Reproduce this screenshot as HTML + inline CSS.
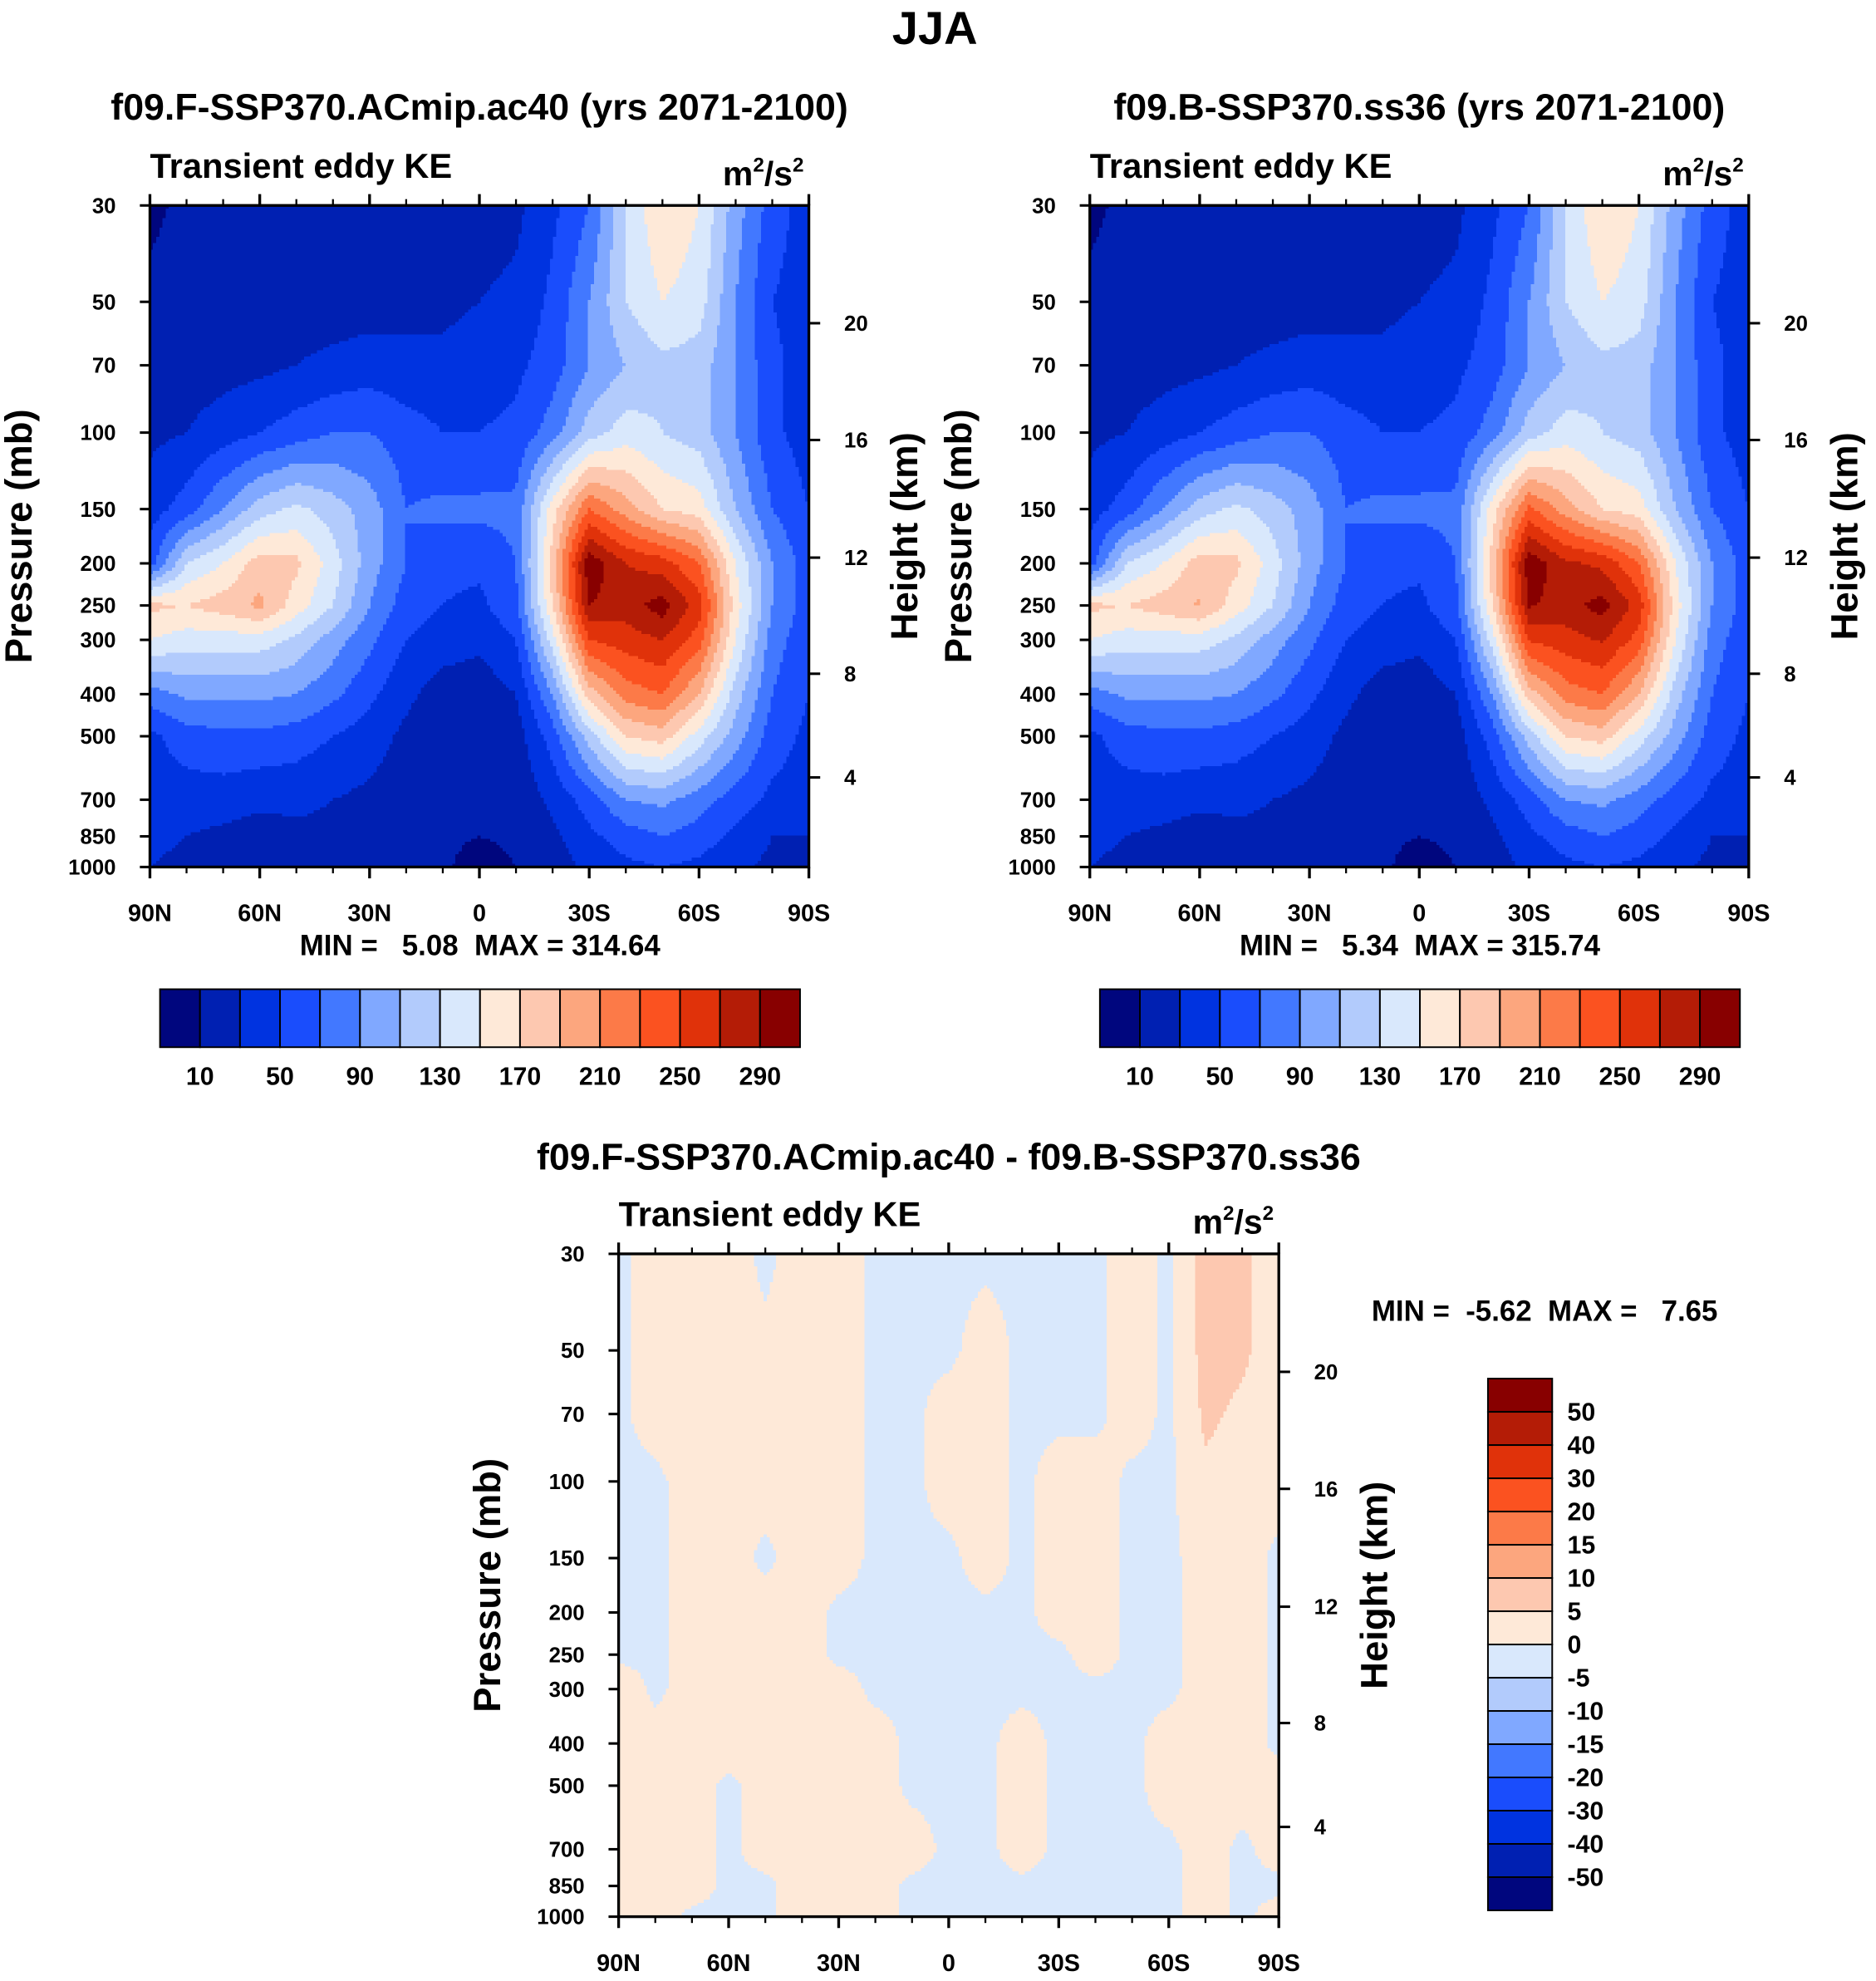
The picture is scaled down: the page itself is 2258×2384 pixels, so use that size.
<!DOCTYPE html>
<html><head><meta charset="utf-8"><style>
html,body{margin:0;padding:0;background:#fff;}
svg{display:block;font-family:"Liberation Sans",Arial,sans-serif;font-weight:bold;}
.pre{white-space:pre;}
</style></head><body>
<svg id="fig" width="2258" height="2384" viewBox="0 0 1489 1572" xmlns="http://www.w3.org/2000/svg">
<text x="742" y="35" font-size="37" text-anchor="middle">JJA</text>
<g id="p1"></g>
<g id="p2"></g>
<g id="p3"></g>
</svg>
<script>
const lats=[90,80,70,60,50,40,30,20,10,0,-10,-20,-30,-40,-50,-60,-70,-80,-90];
const levels=[30,50,70,100,150,200,250,300,400,500,700,850,1000];
const keLevels=[10,30,50,70,90,110,130,150,170,190,210,230,250,270,290];
const keLabels=[10,50,90,130,170,210,250,290];
const diffLevels=[-50,-40,-30,-20,-15,-10,-5,0,5,10,15,20,30,40,50];
const pressTicks=[30,50,70,100,150,200,250,300,400,500,700,850,1000];
const heightTicks=[20,16,12,8,4];
const heightPress=[56,104,194,359,622];
const latTicks=[90,60,30,0,-30,-60,-90];
const latTickLabels=['90N','60N','30N','0','30S','60S','90S'];
const palette=['#00067e','#0020b2','#0033e0','#1a4dfc','#4278ff','#80a8ff','#b2cbfc','#d9e8fc','#fee9d8','#fdc8b0','#fca67e','#fc7a48','#fb5220','#e0320a','#b41c06','#880000'];
const ke1=[
[5,15,20,10,20,20,20,20,20,20,25,45,70,130,170,150,100,60,40],
[15,20,20,20,20,20,20,25,25,30,35,55,90,130,150,140,90,50,40],
[20,20,22,25,30,35,40,35,35,40,45,60,90,110,125,120,90,55,40],
[25,30,40,50,60,70,70,60,50,50,55,80,120,140,130,120,90,55,40],
[40,60,90,120,135,120,100,70,75,75,75,160,230,200,170,160,110,70,50],
[60,130,150,180,175,140,100,70,55,55,70,180,305,270,260,230,150,90,60],
[175,170,180,195,160,130,90,60,50,45,65,170,290,280,300,260,160,90,60],
[150,140,140,140,125,100,75,50,40,35,50,140,250,260,270,240,150,80,55],
[80,95,95,95,90,75,55,35,20,18,30,90,180,220,230,190,120,70,50],
[45,60,65,65,60,50,40,25,15,12,20,60,120,170,180,140,100,60,45],
[40,40,40,35,35,30,25,18,12,10,15,35,60,90,95,80,60,45,40],
[35,30,25,20,25,25,20,15,12,10,12,25,45,60,70,60,45,30,30],
[30,25,20,15,20,20,18,15,12,5,10,20,35,45,50,45,35,25,25]];
const ke2=[
[5,15,20,10,20,20,20,20,20,20,25,45,70,130,170,150,100,60,40],
[15,20,20,20,20,20,20,25,25,30,35,55,90,130,150,140,90,50,40],
[20,20,22,25,30,35,40,35,35,40,45,60,90,110,125,120,90,55,40],
[25,30,40,50,60,70,70,60,50,50,55,80,120,140,130,120,90,55,40],
[40,60,90,120,135,120,100,70,75,75,75,160,235,200,170,160,110,70,50],
[60,130,150,180,175,140,100,70,55,55,70,180,305,275,265,230,150,90,60],
[175,170,180,192,160,130,90,60,50,45,65,170,292,282,298,262,160,90,60],
[150,140,140,140,125,100,75,50,40,35,50,140,252,262,272,242,150,80,55],
[80,95,95,95,90,75,55,35,20,18,30,90,180,220,230,190,120,70,50],
[45,60,65,65,60,50,40,25,15,12,20,60,120,170,180,140,100,60,45],
[40,40,40,35,35,30,25,18,12,10,15,35,60,90,95,80,60,45,40],
[35,30,25,20,25,25,20,15,12,10,12,25,45,60,70,60,45,30,30],
[30,25,20,15,20,20,18,15,12,5,10,20,35,45,50,45,35,25,25]];
const diff=[
[-1,2,2,2,-1,2,2,-1,-1,-1,-1,-1,-1,-1,2,-1,7,6,2],
[-1,2,2,2,1,2,2,-1,-1,-1,2,-1,-1,-1,2,-1,7,6,2],
[-1,2,2,2,2,2,2,-1,-1,2,2,-1,-1,-1,2,-1,6,4,2],
[-1,-1,2,2,2,2,2,-1,-1,2,2,-1,2,2,-1,-1,4,2,2],
[-1,-1,2,2,-1,2,2,-1,-1,-1,2,-1,2,2,-1,-1,2,2,-1],
[-1,-1,2,2,2,2,-1,-1,-1,-1,-1,-1,2,2,-1,-1,2,2,-1],
[-1,-1,2,2,2,2,-1,-1,-1,-1,-1,-1,-1,2,-1,-1,2,2,-1],
[3,-1,2,2,2,2,2,-1,-1,-1,-1,-1,-1,-1,-1,-1,2,2,-1],
[2,2,2,2,2,2,2,2,-1,-1,-1,2,-1,-1,-1,2,2,2,-1],
[2,2,2,-1,2,2,2,2,-1,-1,-1,2,-1,-1,-1,2,2,2,2],
[2,2,2,-1,2,2,2,2,2,-1,-1,2,-1,-1,-1,-1,2,-1,2],
[2,2,2,-1,-1,2,2,2,-1,-1,-1,-1,-1,-1,-1,-1,2,-1,-1],
[2,2,-1,-1,-1,2,2,2,-1,-1,-1,-1,-1,-1,-1,-1,2,-1,2]];

const NS='http://www.w3.org/2000/svg';
function mk(parent,tag,attrs,text){const e=document.createElementNS(NS,tag);for(const k in attrs)e.setAttribute(k,attrs[k]);if(text!==undefined)e.textContent=text;parent.appendChild(e);return e;}
function cidx(v,lv){let k=0;while(k<lv.length&&v>=lv[k])k++;return k;}

function drawPanel(g,cfg){
  const X0=cfg.x,Y0=cfg.y,W=cfg.w,H=cfg.h;
  const lp0=Math.log(30),lp1=Math.log(1000);
  const xOf=lat=>X0+(90-lat)/180*W;
  const yOf=p=>Y0+(Math.log(p)-lp0)/(lp1-lp0)*H;
  const logLev=levels.map(Math.log);
  const data=cfg.data;
  const fld=mk(g,'g',{'shape-rendering':'crispEdges'});
  
  
  const st=2.5;
  for(let yy=Y0;yy<Y0+H;yy+=st){
    const ym=Math.min(yy+st/2,Y0+H);
    const lp=lp0+(ym-Y0)/H*(lp1-lp0);
    let r=0;while(r<levels.length-2&&lp>logLev[r+1])r++;
    const fr=Math.max(0,Math.min(1,(lp-logLev[r])/(logLev[r+1]-logLev[r])));
    let runStart=X0,runC=-1;
    const flush=(xe)=>{if(runC<0)return;const c=mk(fld,'rect',{x:runStart,y:yy,width:xe-runStart+0.4,height:Math.min(st,Y0+H-yy)+0.4,fill:palette[runC]});};
    for(let xx=X0;xx<X0+W;xx+=st){
      const xm=xx+st/2;
      const fi=(xm-X0)/W*(lats.length-1);
      let i=Math.min(Math.floor(fi),lats.length-2);const fx=fi-i;
      const v=(1-fr)*((1-fx)*data[r][i]+fx*data[r][i+1])+fr*((1-fx)*data[r+1][i]+fx*data[r+1][i+1]);
      const c=cidx(v,cfg.lv);
      if(c!==runC){flush(xx);runStart=xx;runC=c;}
    }
    flush(X0+W);
  }
  const frame=mk(g,'rect',{x:X0,y:Y0,width:W,height:H,fill:'none',stroke:'#000','stroke-width':2.2});
  
  for(let lat=90;lat>=-90;lat-=10){
    const x=xOf(lat),maj=lat%30===0,L=maj?9:5;
    mk(g,'line',{x1:x,y1:Y0,x2:x,y2:Y0-L,stroke:'#000','stroke-width':maj?2.2:1.5});
    mk(g,'line',{x1:x,y1:Y0+H,x2:x,y2:Y0+H+L,stroke:'#000','stroke-width':maj?2.2:1.5});
  }
  latTicks.forEach((lat,k)=>{const t=mk(g,'text',{x:xOf(lat),y:Y0+H+43,'font-size':19,'text-anchor':'middle'},latTickLabels[k]);});
  pressTicks.forEach(p=>{const y=yOf(p);mk(g,'line',{x1:X0,y1:y,x2:X0-8,y2:y,stroke:'#000','stroke-width':2});
    const t=mk(g,'text',{x:X0-27,y:y+6,'font-size':17,'text-anchor':'end'},String(p));});
  heightTicks.forEach((h,k)=>{const y=yOf(heightPress[k]);mk(g,'line',{x1:X0+W,y1:y,x2:X0+W+9,y2:y,stroke:'#000','stroke-width':2});
    const t=mk(g,'text',{x:X0+W+28,y:y+6,'font-size':17},String(h));});
  const yt=mk(g,'text',{x:X0-94,y:Y0+H/2,'font-size':30,'text-anchor':'middle',transform:`rotate(-90 ${X0-94} ${Y0+H/2})`},'Pressure (mb)');
  
  const ht=mk(g,'text',{x:X0+W+86,y:Y0+H/2,'font-size':30,'text-anchor':'middle',transform:`rotate(-90 ${X0+W+86} ${Y0+H/2})`},'Height (km)');
  
  const st1=mk(g,'text',{x:X0,y:Y0-22,'font-size':27.5},'Transient eddy KE');
  
  const un=mk(g,'text',{x:X0+W-4,y:Y0-16,'font-size':27,'text-anchor':'end'});
  
  un.innerHTML='m<tspan dy="-11" font-size="16">2</tspan><tspan dy="11">/s</tspan><tspan dy="-11" font-size="16">2</tspan>';
  const tt=mk(g,'text',{x:X0+W/2,y:cfg.titleY,'font-size':29.5,'text-anchor':'middle'},cfg.title);
  
}
function hbar(g,x0,y0,w,h,lv){
  const n=palette.length,bw=w/n;
  palette.forEach((c,k)=>{const r=mk(g,'rect',{x:x0+k*bw,y:y0,width:bw,height:h,fill:c,stroke:'#000','stroke-width':1.3});});
  lv.forEach((v,k)=>{if(keLabels.indexOf(v)<0)return;const t=mk(g,'text',{x:x0+(k+1)*bw,y:y0+h+30,'font-size':20,'text-anchor':'middle'},String(v));});
}
const p1=document.getElementById('p1'),p2=document.getElementById('p2'),p3=document.getElementById('p3');
drawPanel(p1,{x:119,y:163,w:523,h:525,data:ke1,lv:keLevels,title:'f09.F-SSP370.ACmip.ac40 (yrs 2071-2100)',titleY:95});
drawPanel(p2,{x:865,y:163,w:523,h:525,data:ke2,lv:keLevels,title:'f09.B-SSP370.ss36 (yrs 2071-2100)',titleY:95});
drawPanel(p3,{x:491,y:995,w:524,h:526,data:diff,lv:diffLevels,title:'f09.F-SSP370.ACmip.ac40 - f09.B-SSP370.ss36',titleY:928});
let m=mk(p1,'text',{x:381,y:758,'font-size':23,'text-anchor':'middle','class':'pre'},'MIN =   5.08  MAX = 314.64');
m=mk(p2,'text',{x:1127,y:758,'font-size':23,'text-anchor':'middle','class':'pre'},'MIN =   5.34  MAX = 315.74');
m=mk(p3,'text',{x:1226,y:1048,'font-size':23,'text-anchor':'middle','class':'pre'},'MIN =  -5.62  MAX =   7.65');
const cb1=mk(p1,'g',{});hbar(cb1,127,785,508,46,keLevels);
const cb2=mk(p2,'g',{});hbar(cb2,873,785,508,46,keLevels);
const cb3=mk(p3,'g',{});
(function(){const x0=1181,y0=1094,w=51,h=422,n=palette.length,bh=h/n;
  for(let k=0;k<n;k++){const r=mk(cb3,'rect',{x:x0,y:y0+k*bh,width:w,height:bh,fill:palette[n-1-k],stroke:'#000','stroke-width':1.3});}
  for(let k=0;k<diffLevels.length;k++){const v=diffLevels[diffLevels.length-1-k];const t=mk(cb3,'text',{x:x0+w+12,y:y0+(k+1)*bh+7,'font-size':20},String(v));}
})();
</script>
</body></html>
